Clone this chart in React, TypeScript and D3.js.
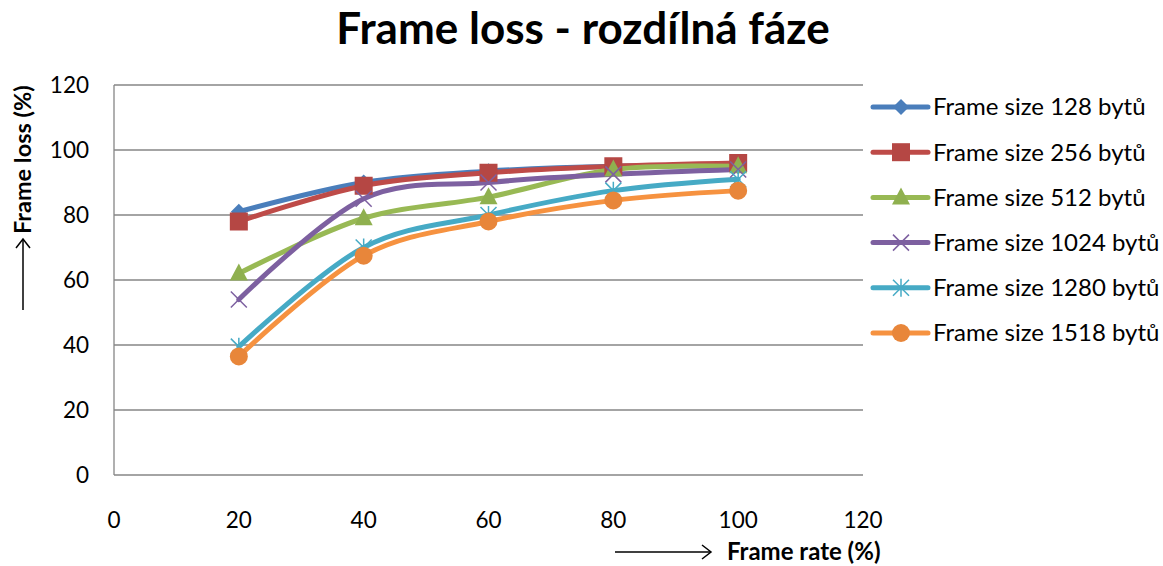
import React from "react";
import * as d3 from "d3";

const xValues = [20, 40, 60, 80, 100];
const seriesNames = [
  "Frame size 128 bytů",
  "Frame size 256 bytů",
  "Frame size 512 bytů",
  "Frame size 1024 bytů",
  "Frame size 1280 bytů",
  "Frame size 1518 bytů",
];
const s128 = [81, 90, 93.5, 95, 95];
const s256 = [78, 89, 93, 95, 96];
const s512 = [62, 79, 85.5, 94, 95];
const s1024 = [54, 85, 90, 92.5, 94];
const s1280 = [39.5, 70, 80, 87.5, 91];
const s1518 = [36.5, 67.5, 78, 84.5, 87.5];
const seriesValues = [s128, s256, s512, s1024, s1280, s1518];
const xTicks = [0, 20, 40, 60, 80, 100, 120];
const yTicks = [0, 20, 40, 60, 80, 100, 120];
const colors = ["#4A7EBB", "#BE4B48", "#98B954", "#7D60A0", "#46AAC5", "#F69240"];
const markerColors = ["#4A7EBB", "#B54744", "#8FB04F", "#7D60A0", "#46AAC5", "#E8863A"];
const markers = ["diamond", "square", "triangle", "x", "star", "circle"];

const FONT = "Lato, 'Open Sans', sans-serif";

function Marker({ type, x, y, color }: { type: string; x: number; y: number; color: string }) {
  switch (type) {
    case "diamond":
      return <path d={`M${x},${y - 8}L${x + 8},${y}L${x},${y + 8}L${x - 8},${y}Z`} fill={color} />;
    case "square":
      return <rect x={x - 9} y={y - 9} width={18} height={18} fill={color} />;
    case "triangle":
      return <path d={`M${x},${y - 10}L${x + 9},${y + 7}L${x - 9},${y + 7}Z`} fill={color} />;
    case "x":
      return (
        <path
          d={`M${x - 8},${y - 8}L${x + 8},${y + 8}M${x + 8},${y - 8}L${x - 8},${y + 8}`}
          stroke={color}
          strokeWidth={1.5}
          fill="none"
        />
      );
    case "star":
      return (
        <path
          d={`M${x - 8},${y - 8}L${x + 8},${y + 8}M${x + 8},${y - 8}L${x - 8},${y + 8}M${x},${y - 9}L${x},${y + 9}`}
          stroke={color}
          strokeWidth={1.5}
          fill="none"
        />
      );
    default:
      return <circle cx={x} cy={y} r={9} fill={color} />;
  }
}

export default function App() {
  const width = 1163;
  const height = 566;
  const left = 114;
  const right = 863;
  const top = 85;
  const bottom = 475;

  const x = d3.scaleLinear().domain([0, 120]).range([left, right]);
  const y = d3.scaleLinear().domain([0, 120]).range([bottom, top]);

  const line = d3
    .line<number>()
    .x((_, i) => x(xValues[i]))
    .y((d) => y(d))
    .curve(d3.curveCardinal.tension(0));

  const legendX = 873;
  const legendY0 = 107;
  const legendStep = 45.2;

  return (
    <svg width={width} height={height} style={{ position: "absolute", left: 0, top: 0 }}>
      <rect width={width} height={height} fill="#fff" />
      <text
        x={583}
        y={44}
        textAnchor="middle"
        fontFamily={FONT}
        fontWeight="bold"
        fontSize={44}
        fill="#000"
      >
        Frame loss - rozdílná fáze
      </text>

      {yTicks.map((t) =>
        t === 0 ? null : (
          <line key={t} x1={left} x2={right} y1={y(t)} y2={y(t)} stroke="#868686" strokeWidth={1.3} />
        )
      )}
      <line x1={left} x2={left} y1={top} y2={bottom} stroke="#868686" strokeWidth={1.3} />
      <line x1={left} x2={right} y1={bottom} y2={bottom} stroke="#868686" strokeWidth={1.3} />

      {yTicks.map((t) => (
        <text
          key={t}
          x={89}
          y={y(t)}
          dy="0.35em"
          textAnchor="end"
          fontFamily={FONT}
          fontSize={22.5}
          fill="#000"
        >
          {t}
        </text>
      ))}
      {xTicks.map((t) => (
        <text
          key={t}
          x={x(t)}
          y={520}
          dy="0.35em"
          textAnchor="middle"
          fontFamily={FONT}
          fontSize={22.5}
          fill="#000"
        >
          {t}
        </text>
      ))}

      {seriesValues.map((vals, si) => (
        <path key={si} d={line(vals) || ""} fill="none" stroke={colors[si]} strokeWidth={5} strokeLinecap="round" />
      ))}
      {seriesValues.map((vals, si) =>
        vals.map((v, i) => (
          <Marker key={`${si}-${i}`} type={markers[si]} x={x(xValues[i])} y={y(v)} color={markerColors[si]} />
        ))
      )}

      {seriesNames.map((name, si) => {
        const ly = legendY0 + si * legendStep;
        return (
          <g key={name}>
            <line x1={legendX} x2={legendX + 55} y1={ly} y2={ly} stroke={colors[si]} strokeWidth={5} strokeLinecap="round" />
            <Marker type={markers[si]} x={legendX + 28} y={ly} color={markerColors[si]} />
            <text x={933} y={ly} dy="0.35em" fontFamily={FONT} fontSize={24} fill="#000">
              {name}
            </text>
          </g>
        );
      })}

      {/* Y axis title with arrow */}
      <g transform="translate(23,310) rotate(-90)">
        <line x1={0} x2={70} y1={0} y2={0} stroke="#000" strokeWidth={1.5} />
        <path d="M62,-7L71,0L62,7" fill="none" stroke="#000" strokeWidth={1.5} />
        <text x={76} y={0} dy="0.35em" fontFamily={FONT} fontWeight="bold" fontSize={23.5} fill="#000">
          Frame loss (%)
        </text>
      </g>

      {/* X axis title with arrow */}
      <line x1={615} x2={711} y1={552} y2={552} stroke="#000" strokeWidth={1.5} />
      <path d="M702,545L711,552L702,559" fill="none" stroke="#000" strokeWidth={1.5} />
      <text x={727} y={552} dy="0.35em" fontFamily={FONT} fontWeight="bold" fontSize={24} fill="#000">
        Frame rate (%)
      </text>
    </svg>
  );
}
